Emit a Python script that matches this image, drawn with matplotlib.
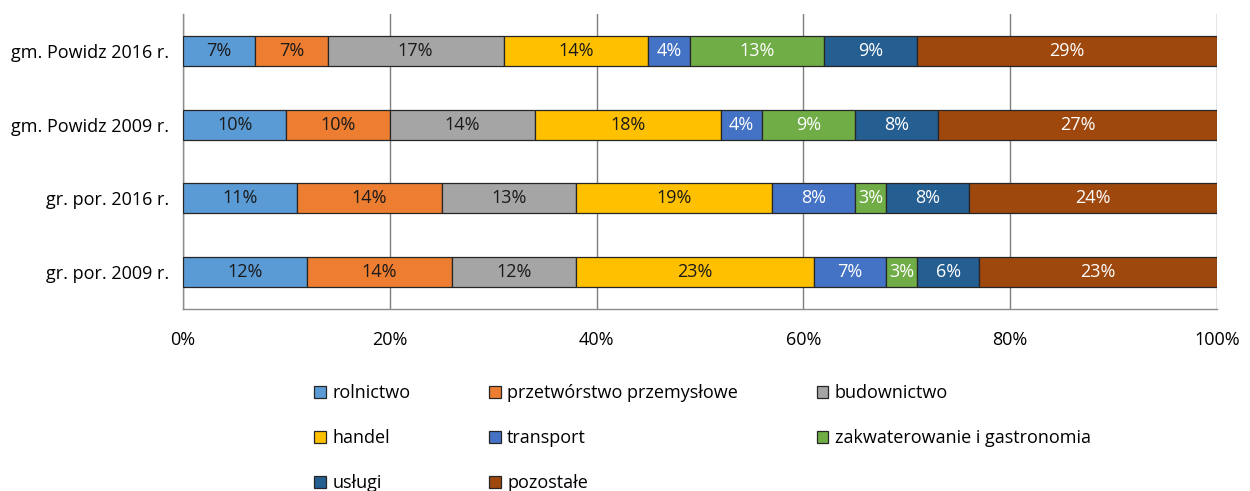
import matplotlib
matplotlib.use("Agg")
import matplotlib.pyplot as plt
import numpy as np

plt.rcParams['font.family'] = ['Open Sans', 'DejaVu Sans']

categories = ["gm. Powidz 2016 r.", "gm. Powidz 2009 r.", "gr. por. 2016 r.", "gr. por. 2009 r."]
series_names = ["rolnictwo", "przetwórstwo przemysłowe", "budownictwo", "handel",
                "transport", "zakwaterowanie i gastronomia", "usługi", "pozostałe"]
rolnictwo = [7, 10, 11, 12]
przetworstwo = [7, 10, 14, 14]
budownictwo = [17, 14, 13, 12]
handel = [14, 18, 19, 23]
transport = [4, 4, 8, 7]
zakwaterowanie = [13, 9, 3, 3]
uslugi = [9, 8, 8, 6]
pozostale = [29, 27, 24, 23]
xtick_labels = ["0%", "20%", "40%", "60%", "80%", "100%"]

series = [rolnictwo, przetworstwo, budownictwo, handel, transport, zakwaterowanie, uslugi, pozostale]
colors = ["#5B9BD5", "#ED7D31", "#A5A5A5", "#FFC000", "#4472C4", "#70AD47", "#255E91", "#9E480E"]
text_colors = ["#1a1a1a", "#1a1a1a", "#1a1a1a", "#1a1a1a", "white", "white", "white", "white"]

FS = 13

fig = plt.figure(figsize=(12.5, 4.91), dpi=100)
ax = fig.add_axes([183/1250, 1-309/491, (1217-183)/1250, (309-14)/491])

y = np.arange(len(categories))
left = np.zeros(len(categories))
handles = []
for vals, name, c, tc in zip(series, series_names, colors, text_colors):
    vals = np.array(vals, dtype=float)
    bars = ax.barh(y, vals, left=left, height=0.41, color=c, edgecolor="#262626",
                   linewidth=0.9, label=name, zorder=3)
    ax.bar_label(bars, labels=[f"{int(v)}%" for v in vals], label_type='center',
                 color=tc, fontsize=FS)
    handles.append(bars)
    left += vals

ax.set_xlim(0, 100)
ax.set_ylim(len(categories) - 0.5, -0.5)
ax.set_yticks(y)
ax.set_yticklabels(categories, fontsize=FS)
ax.set_xticks(np.arange(0, 101, 20))
ax.set_xticklabels(xtick_labels, fontsize=FS)
ax.tick_params(axis='both', length=0)
ax.tick_params(axis='x', pad=16)
ax.tick_params(axis='y', pad=10)
ax.grid(axis='x', color="#7f7f7f", linewidth=1, zorder=0)
ax.set_axisbelow(True)
for s in ['top', 'right']:
    ax.spines[s].set_visible(False)
for s in ['left', 'bottom']:
    ax.spines[s].set_color("#8c8c8c")
    ax.spines[s].set_linewidth(1)

order = [0, 3, 6, 1, 4, 7, 2, 5]
leg = fig.legend([handles[i] for i in order], [series_names[i] for i in order],
                 ncol=3, loc='upper left', bbox_to_anchor=(314/1250, 1-384/491),
                 frameon=False, fontsize=FS, handlelength=0.66, handleheight=0.66,
                 handletextpad=0.35, columnspacing=4.35, labelspacing=1.5,
                 borderpad=0, borderaxespad=0)

fig.savefig("out.png", dpi=100)
